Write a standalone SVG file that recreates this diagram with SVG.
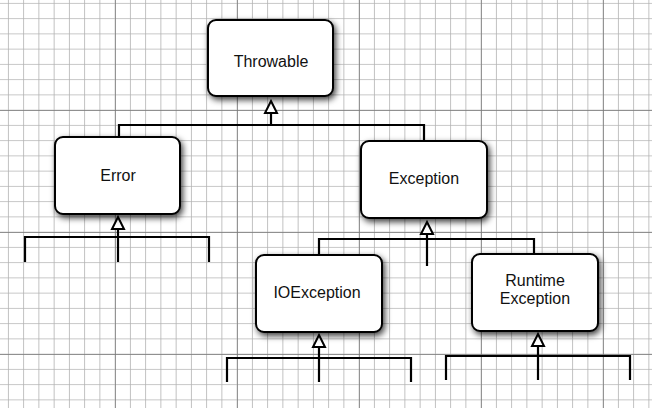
<svg xmlns="http://www.w3.org/2000/svg" width="652" height="408" viewBox="0 0 652 408">
<defs>
<pattern id="minor" patternUnits="userSpaceOnUse" x="7.9" y="2.9" width="15.25" height="15.25">
<path d="M0 0V15.25M0 0H15.25" fill="none" stroke="#b2b2b2" stroke-width="1.6"/>
</pattern>
<pattern id="major" patternUnits="userSpaceOnUse" x="115" y="110" width="122" height="122">
<path d="M0 0V122M0 0H122" fill="none" stroke="#777" stroke-width="1.4"/>
</pattern>
<filter id="sh" x="-20%" y="-20%" width="150%" height="150%">
<feDropShadow dx="2" dy="3" stdDeviation="3" flood-color="#000" flood-opacity="0.75"/>
</filter>
<style>
.box{fill:#fff;stroke:#000;stroke-width:2;filter:url(#sh)}
.lbl{font-family:"Liberation Sans",Arial,sans-serif;font-size:16px;text-anchor:middle;fill:#111}
.c{fill:none;stroke:#000;stroke-width:2.2}
.ah{fill:#fff;stroke:#000;stroke-width:2}
</style>
</defs>
<rect width="652" height="408" fill="#fff"/>
<rect width="652" height="408" fill="url(#minor)"/>
<rect width="652" height="408" fill="url(#major)"/>
<g id="connectors">
<path class="c" d="M271 125V114M119 137V125H424V141"/>
<path class="ah" d="M271 101L277 113H265Z"/>
<path class="c" d="M118 262V229M25 262V237H209V262"/>
<path class="ah" d="M118 217L124 229H112Z"/>
<path class="c" d="M427 266V233M319 255V239H534V254"/>
<path class="ah" d="M427 222L433 234H421Z"/>
<path class="c" d="M319 382V347M227 382V358H411V382"/>
<path class="ah" d="M319 335L325 347H313Z"/>
<path class="c" d="M538 380V346M446 380V356H630V380"/>
<path class="ah" d="M538 334L544 346H532Z"/>
</g>
<g id="throwable"><rect class="box" x="208" y="20" width="125" height="76" rx="8"/><text class="lbl" x="271" y="67">Throwable</text></g>
<g id="error"><rect class="box" x="55" y="137" width="125" height="77" rx="8"/><text class="lbl" x="118" y="181">Error</text></g>
<g id="exception"><rect class="box" x="361" y="141" width="126" height="77" rx="8"/><text class="lbl" x="424" y="184">Exception</text></g>
<g id="ioexception"><rect class="box" x="256" y="255" width="126" height="77" rx="8"/><text class="lbl" x="317" y="298">IOException</text></g>
<g id="runtime"><rect class="box" x="472" y="254" width="126" height="77" rx="8"/><text class="lbl" x="535" y="286">Runtime</text><text class="lbl" x="535" y="304">Exception</text></g>
</svg>
